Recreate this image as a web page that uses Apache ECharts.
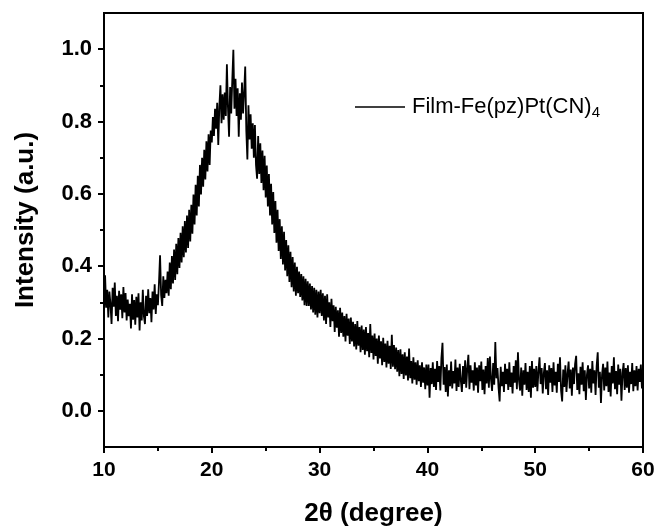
<!DOCTYPE html>
<html><head><meta charset="utf-8">
<script src="https://cdn.jsdelivr.net/npm/echarts@6/dist/echarts.min.js"></script>
<style>html,body{margin:0;padding:0;background:#fff}#c{width:660px;height:532px}</style>
</head><body><div id="c"></div>
<script>
// 2θ sampling grid (degrees)
const X_START = 10, X_STEP = 0.1;
// Intensity, in thousandths (a.u.), one value per 0.1°
const d10 = [270,375,285,335,258,330,295,240,340,288,
  355,262,318,248,332,280,322,256,342,272,
  326,250,308,262,296,228,322,252,306,238,
  315,258,325,222,300,250,335,262,240,318,
  262,336,270,312,245,330,280,350,268,322,
  292,355,430,320,290,372,312,362,325,385,
  318,410,336,428,352,446,362,462,378,478,
  395,492,410,510,425,525,438,540,450,556,
  468,570,490,598,515,625,540,650,565,680,
  598,700,620,722,640,745,662,765,680,775];
const d20 = [742,812,760,835,780,852,735,842,900,795,
  875,805,880,815,958,838,758,895,822,915,
  998,835,918,815,892,758,878,805,908,822,
  880,952,775,695,845,750,820,725,795,700,
  790,680,642,760,655,740,630,720,610,705,
  590,678,565,655,540,628,515,605,492,580,
  465,556,442,530,420,510,405,495,388,472,
  372,458,356,440,342,425,330,410,318,398,
  325,385,315,378,305,372,292,365,290,358,
  290,352,280,345,272,340,266,335,258,330];
const d30 = [270,335,262,325,250,318,240,322,258,300,
  232,310,248,292,218,288,230,278,205,285,
  215,272,205,262,192,268,208,255,185,258,
  192,246,178,240,170,248,180,232,162,236,
  168,225,155,232,165,215,148,240,160,208,
  142,214,152,200,130,208,145,192,126,202,
  135,186,120,194,130,180,116,210,122,182,
  115,175,108,168,96,170,102,156,88,162,
  98,150,84,172,90,138,76,148,86,134,
  72,140,82,126,66,134,78,120,60,128];
const d40 = [70,128,36,118,74,134,66,116,58,138,
  80,124,56,146,188,72,121,52,128,40,
  112,68,136,62,110,76,142,55,120,66,
  130,84,52,124,74,140,64,118,155,60,
  126,78,112,56,134,70,120,50,126,82,
  136,58,114,46,124,76,146,64,150,86,
  55,132,72,190,90,118,64,26,122,68,
  108,52,130,74,116,58,134,66,106,48,
  124,78,140,60,162,82,56,120,42,112,
  72,132,58,108,52,124,36,138,64,116];
const d50 = [66,124,54,110,148,74,118,48,104,132,
  60,112,44,126,78,118,52,134,70,108,
  50,130,80,148,56,26,114,66,126,52,
  102,136,62,114,42,120,74,130,152,58,
  104,46,122,72,134,54,112,30,100,126,
  62,116,50,138,76,112,44,124,162,64,
  108,22,100,130,56,120,68,136,52,106,
  40,124,76,148,60,110,46,128,72,116,
  28,104,132,58,118,64,126,50,108,74,
  132,54,112,68,124,56,116,80,128,62,
  92];
const yMajorTicks = [0, 0.2, 0.4, 0.6, 0.8, 1.0];
const yMinorTicks = [0.1, 0.3, 0.5, 0.7, 0.9];
const seriesName = 'Film-Fe(pz)Pt(CN)4';
const xTitle = '2θ (degree)';
const yTitle = 'Intensity (a.u.)';

const FONT = '"Liberation Sans", Arial, sans-serif';
const all = [].concat(d10, d20, d30, d40, d50);
const data = all.map((v, i) => [+(X_START + i * X_STEP).toFixed(1), v / 1000]);

const chart = echarts.init(document.getElementById('c'), null, {renderer: 'canvas'});
const axisLineStyle = {color: '#000', width: 2};
chart.setOption({
  animation: false,
  backgroundColor: '#fff',
  grid: {left: 104, right: 17, top: 13, bottom: 85, show: true, borderColor: '#000', borderWidth: 2, backgroundColor: 'transparent'},
  legend: {
    data: [{name: seriesName, icon: 'rect'}],
    left: 355, top: 96, padding: 0,
    itemWidth: 50, itemHeight: 1.5,
    itemStyle: {color: '#000', borderWidth: 0},
    formatter: () => '{a|Film-Fe(pz)Pt(CN)}{s|4}',
    textStyle: {
      color: '#000', fontFamily: FONT, padding: [0, 0, 0, 2],
      rich: {
        a: {fontSize: 22, fontFamily: FONT, color: '#000'},
        s: {fontSize: 15, fontFamily: FONT, color: '#000', padding: [12, 0, 0, 0]}
      }
    }
  },
  xAxis: {
    type: 'value', min: 10, max: 60, interval: 10,
    axisLine: {show: true, onZero: false, lineStyle: axisLineStyle},
    axisTick: {show: true, length: 6, lineStyle: axisLineStyle},
    minorTick: {show: true, splitNumber: 2, length: 4, lineStyle: axisLineStyle},
    splitLine: {show: false}, minorSplitLine: {show: false},
    axisLabel: {fontFamily: FONT, fontWeight: 'bold', fontSize: 21, color: '#000', margin: 13},
    name: xTitle, nameLocation: 'middle', nameGap: 54,
    nameTextStyle: {fontFamily: FONT, fontWeight: 'bold', fontSize: 26, color: '#000'}
  },
  yAxis: [{
    type: 'value', min: -0.1, max: 1.1,
    axisLine: {show: true, onZero: false, lineStyle: axisLineStyle},
    axisTick: {show: true, length: 6, lineStyle: axisLineStyle, customValues: yMajorTicks},
    splitLine: {show: false},
    axisLabel: {customValues: yMajorTicks, formatter: v => v.toFixed(1), fontFamily: FONT, fontWeight: 'bold', fontSize: 22, color: '#000', margin: 12},
    name: yTitle, nameLocation: 'middle', nameGap: 65, nameRotate: 90,
    nameTextStyle: {fontFamily: FONT, fontWeight: 'bold', fontSize: 26, color: '#000', padding: [0, 0, 0, 20]}
  }, {
    type: 'value', min: -0.1, max: 1.1, position: 'left',
    axisLine: {show: false},
    axisTick: {show: true, length: 4, lineStyle: axisLineStyle, customValues: yMinorTicks},
    axisLabel: {show: false},
    splitLine: {show: false}
  }],
  series: [{
    name: seriesName, type: 'line', data: data,
    symbol: 'none', showSymbol: false,
    lineStyle: {color: '#000', width: 1.8},
    itemStyle: {color: '#000'}
  }]
});
</script>
</body></html>
